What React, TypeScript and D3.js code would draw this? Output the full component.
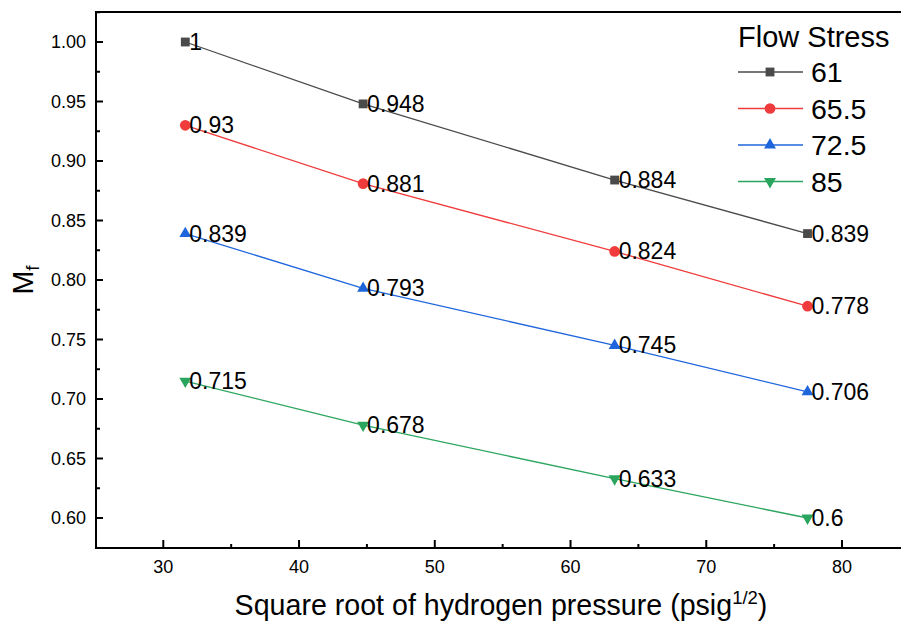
import React, { useEffect, useRef } from 'react';
import * as d3 from 'd3';

// sqrt of hydrogen pressure (psig^1/2)
const pressures = [31.62, 44.72, 63.25, 77.46];
const stressNames = ['61', '65.5', '72.5', '85'];
const mf61 = [1, 0.948, 0.884, 0.839];
const mf655 = [0.93, 0.881, 0.824, 0.778];
const mf725 = [0.839, 0.793, 0.745, 0.706];
const mf85 = [0.715, 0.678, 0.633, 0.6];
const xTicks = [30, 40, 50, 60, 70, 80];
const yTicks = [0.6, 0.65, 0.7, 0.75, 0.8, 0.85, 0.9, 0.95, 1.0];

const colors = ['#4a4a4a', '#ef3b3b', '#1f66dc', '#2aa55e'];
const symbols = [d3.symbolSquare, d3.symbolCircle, d3.symbolTriangle, d3.symbolTriangle];
const symSizes = [78, 90, 62, 62];

export default function App() {
  const ref = useRef<SVGSVGElement>(null);

  useEffect(() => {
    const width = 901;
    const svg = d3.select(ref.current);
    svg.selectAll('*').remove();
    const font = 'Liberation Sans, Arial, sans-serif';

    const x = d3.scaleLinear().domain([30, 80]).range([163.3, 842]);
    const y = d3.scaleLinear().domain([0.6, 1.0]).range([518, 42]);

    const series = [mf61, mf655, mf725, mf85];

    // frame (right side is cut off)
    const x0 = 96, x1 = width + 5, y0 = 12, y1 = 548;
    svg.append('path')
      .attr('d', `M${x1},${y0}H${x0}V${y1}H${x1}`)
      .attr('fill', 'none').attr('stroke', '#000').attr('stroke-width', 2);

    // y ticks
    const yg = svg.append('g').attr('font-family', font).attr('font-size', 18);
    yTicks.forEach(t => {
      yg.append('line').attr('x1', x0).attr('x2', x0 + 7).attr('y1', y(t)).attr('y2', y(t))
        .attr('stroke', '#000').attr('stroke-width', 2);
      yg.append('text').attr('x', x0 - 10).attr('y', y(t)).attr('dy', '0.35em')
        .attr('text-anchor', 'end').text(d3.format('.2f')(t));
      const m = t - 0.025;
      if (m > 0.58) {
        yg.append('line').attr('x1', x0).attr('x2', x0 + 4).attr('y1', y(m)).attr('y2', y(m))
          .attr('stroke', '#000').attr('stroke-width', 2);
      }
    });
    yg.append('line').attr('x1', x0).attr('x2', x0 + 4).attr('y1', y(1.025)).attr('y2', y(1.025))
      .attr('stroke', '#000').attr('stroke-width', 2);

    // x ticks
    const xg = svg.append('g').attr('font-family', font).attr('font-size', 18);
    xTicks.forEach(t => {
      xg.append('line').attr('x1', x(t)).attr('x2', x(t)).attr('y1', y1).attr('y2', y1 - 8)
        .attr('stroke', '#000').attr('stroke-width', 2);
      xg.append('text').attr('x', x(t)).attr('y', y1 + 25).attr('text-anchor', 'middle').text(t);
      xg.append('line').attr('x1', x(t + 5)).attr('x2', x(t + 5)).attr('y1', y1).attr('y2', y1 - 4)
        .attr('stroke', '#000').attr('stroke-width', 2);
    });

    // axis titles
    const xt = svg.append('text').attr('x', 501).attr('y', 615).attr('text-anchor', 'middle')
      .attr('font-family', font).attr('font-size', 28.6);
    xt.append('tspan').text('Square root of hydrogen pressure (psig');
    xt.append('tspan').attr('dy', -11).attr('font-size', 18.5).text('1/2');
    xt.append('tspan').attr('dy', 11).text(')');

    const yt = svg.append('text').attr('transform', 'translate(33,280) rotate(-90)')
      .attr('text-anchor', 'middle').attr('font-family', font).attr('font-size', 28.6);
    yt.append('tspan').text('M');
    yt.append('tspan').attr('dy', 6).attr('font-size', 18.5).text('f');

    const line = d3.line<number>().x((d, i) => x(pressures[i])).y(d => y(d));
    const sym = (i: number) => d3.symbol().type(symbols[i]).size(symSizes[i])();
    const rot = (i: number) => (i === 3 ? ' rotate(180)' : '');

    series.forEach((vals, s) => {
      svg.append('path').datum(vals).attr('d', line).attr('fill', 'none')
        .attr('stroke', colors[s]).attr('stroke-width', 1.3);
      vals.forEach((v, i) => {
        svg.append('path').attr('d', sym(s))
          .attr('transform', `translate(${x(pressures[i])},${y(v)})${rot(s)}`)
          .attr('fill', colors[s]);
        svg.append('text').attr('x', x(pressures[i]) + 4).attr('y', y(v) + 8)
          .attr('font-family', font).attr('font-size', 23).text(String(v));
      });
    });

    // legend
    const lg = svg.append('g').attr('font-family', font);
    lg.append('text').attr('x', 738).attr('y', 47).attr('font-size', 29).text('Flow Stress');
    stressNames.forEach((name, s) => {
      const ly = 72 + s * 36.5;
      lg.append('line').attr('x1', 738).attr('x2', 803).attr('y1', ly).attr('y2', ly)
        .attr('stroke', colors[s]).attr('stroke-width', 1.3);
      lg.append('path').attr('d', sym(s)).attr('transform', `translate(770,${ly})${rot(s)}`)
        .attr('fill', colors[s]);
      lg.append('text').attr('x', 811).attr('y', ly).attr('dy', '0.36em')
        .attr('font-size', 28.5).text(name);
    });
  }, []);

  return <svg ref={ref} width={901} height={624} style={{ display: 'block', position: 'absolute', left: 0, top: 0 }} />;
}
